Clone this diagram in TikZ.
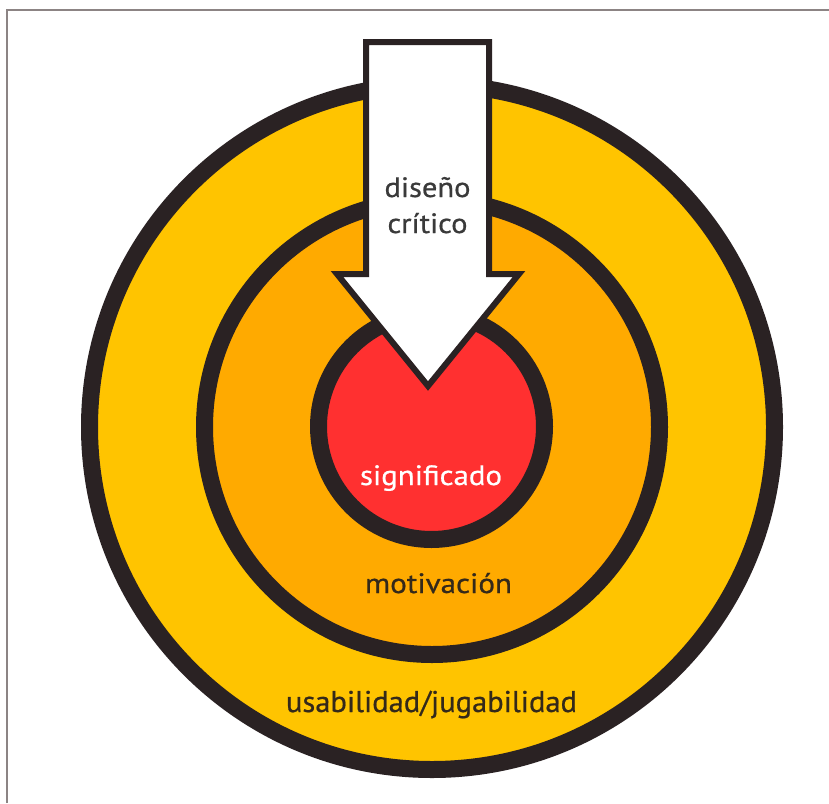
\documentclass[tikz,border=0pt]{standalone}
\usepackage{fontspec}
\setmainfont{PT Sans}
\newfontfamily\labelfont{PT Sans}[FakeBold=0.6]
\usepackage{graphicx}
\definecolor{ringyellow}{HTML}{FFC400}
\definecolor{ringorange}{HTML}{FFAA00}
\definecolor{corered}{HTML}{FF3030}
\definecolor{inkline}{HTML}{2A2223}
\definecolor{framegray}{HTML}{8C8484}
\definecolor{darktext}{HTML}{34291A}
\definecolor{graytext}{HTML}{3A3A3A}
\newcommand{\fitw}[2]{\resizebox{#1}{\height}{#2}}
\begin{document}
\begin{tikzpicture}[x=1pt,y=-1pt,
  ring/.style={circle, draw=inkline, line width=17pt, inner sep=0pt},
  lbl/.style={anchor=base, inner sep=0pt, font=\labelfont\fontsize{28}{30}\selectfont}]
\useasboundingbox (0,0) rectangle (829,803);
\fill[white] (0,0) rectangle (829,803);
% frame
\coordinate (fa) at (7,803);
\coordinate (fb) at (7,10);
\coordinate (fc) at (829,10);
\draw[framegray, line width=1.5pt] (fa) -- (fb) -- (fc);
% rings
\node[ring, fill=ringyellow, minimum size=685pt] (outer) at (432,427) {};
\node[ring, fill=ringorange, minimum size=455pt] (middle) at (432,427) {};
\node[ring, fill=corered, minimum size=226pt] (core) at (431.5,426.5) {};
% arrow
\draw[draw=inkline, fill=white, line width=6pt, line join=miter, miter limit=10]
  (366,42) -- (489,42) -- (489,274) -- (519,274) -- (428,386) -- (337,274) -- (366,274) -- cycle;
% labels
\node[lbl, text=graytext] (dis) at (427.5,197) {\fitw{86pt}{diseño}};
\node[lbl, text=graytext] (cri) at (427.5,233) {\fitw{80pt}{crítico}};
\node[lbl, text=white] (sig) at (431,485) {\fitw{142pt}{significado}};
\node[lbl, text=darktext] (mot) at (438.5,593) {\fitw{147pt}{motivación}};
\node[lbl, text=darktext, font=\labelfont\fontsize{30}{32}\selectfont] (usa) at (431.5,712) {\fitw{291pt}{usabilidad/jugabilidad}};
\end{tikzpicture}
\end{document}
